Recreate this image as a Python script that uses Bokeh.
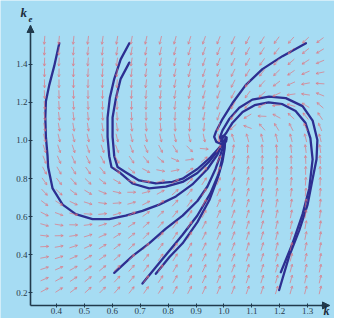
from math import hypot
from bokeh.plotting import figure
from bokeh.models import ColumnDataSource, Arrow, OpenHead, NormalHead, Label, FixedTicker
from bokeh.embed import file_html
from bokeh.resources import INLINE

# ---------------- data ----------------
X_TICKS = [0.4, 0.5, 0.6, 0.7, 0.8, 0.9, 1.0, 1.1, 1.2, 1.3]
X_TICK_LABELS = ["0.4", "0.5", "0.6", "0.7", "0.8", "0.9", "1.0", "1.1", "1.2", "1.3"]
Y_TICKS = [0.2, 0.4, 0.6, 0.8, 1.0, 1.2, 1.4]
Y_TICK_LABELS = ["0.2", "0.4", "0.6", "0.8", "1.0", "1.2", "1.4"]

# steady state (centre of the spiral) and linear direction-field coefficients
K_STAR, KE_STAR = 0.996, 1.010
FIELD_COEF = [[-1.0, -2.0], [6.0, -7.0]]

# grid on which the direction field arrows sit
FIELD_K = [0.357, 0.409, 0.461, 0.513, 0.565, 0.617, 0.669, 0.721, 0.773, 0.825,
           0.877, 0.929, 0.981, 1.033, 1.085, 1.137, 1.189, 1.241, 1.293, 1.345]
FIELD_KE = [0.215, 0.272, 0.329, 0.386, 0.443, 0.500, 0.557, 0.614, 0.671, 0.728,
            0.785, 0.842, 0.899, 0.956, 1.013, 1.070, 1.127, 1.184, 1.241, 1.298,
            1.355, 1.412, 1.469, 1.526]

# trajectories
TRAJ_A_K = [0.410, 0.392, 0.374, 0.362, 0.360, 0.362, 0.368, 0.370, 0.386, 0.422, 0.469, 0.529,
            0.589, 0.648, 0.708, 0.768, 0.828, 0.887, 0.941, 0.977, 0.992, 1.004, 1.008]
TRAJ_A_KE = [1.510, 1.391, 1.290, 1.205, 1.120, 1.019, 0.917, 0.860, 0.748, 0.663, 0.613, 0.587,
             0.587, 0.605, 0.630, 0.663, 0.706, 0.769, 0.850, 0.926, 0.975, 0.990, 1.005]

TRAJ_B1_K = [0.661, 0.630, 0.607, 0.591, 0.583, 0.583, 0.589, 0.597, 0.625, 0.672, 0.732,
             0.792, 0.852, 0.905, 0.948, 0.981, 0.996, 1.006, 1.006]
TRAJ_B1_KE = [1.510, 1.425, 1.323, 1.222, 1.120, 1.019, 0.917, 0.860, 0.833, 0.774, 0.748,
              0.757, 0.782, 0.829, 0.890, 0.951, 0.985, 0.996, 1.012]

TRAJ_B2_K = [0.661, 0.630, 0.613, 0.601, 0.601, 0.607, 0.619, 0.648, 0.696, 0.756, 0.816,
             0.852, 0.905, 0.952, 0.984, 1.000, 1.005]
TRAJ_B2_KE = [1.408, 1.323, 1.222, 1.120, 1.019, 0.917, 0.860, 0.833, 0.790, 0.774, 0.782,
              0.799, 0.850, 0.911, 0.962, 0.992, 1.008]

TRAJ_C_K = [0.607, 0.672, 0.732, 0.792, 0.852, 0.905, 0.941, 0.970, 0.988, 0.999, 1.006]
TRAJ_C_KE = [0.305, 0.393, 0.460, 0.537, 0.605, 0.682, 0.758, 0.850, 0.926, 0.977, 1.000]

TRAJ_D1_K = [0.708, 0.780, 0.852, 0.905, 0.952, 0.981, 0.995, 1.002, 1.004]
TRAJ_D1_KE = [0.249, 0.378, 0.505, 0.606, 0.723, 0.824, 0.911, 0.967, 0.995]

TRAJ_D2_K = [0.756, 0.805, 0.852, 0.905, 0.948, 0.977, 0.995, 1.002, 1.004]
TRAJ_D2_KE = [0.300, 0.388, 0.460, 0.571, 0.687, 0.799, 0.890, 0.951, 0.985]

TRAJ_E1_K = [1.198, 1.234, 1.270, 1.300, 1.318, 1.332, 1.335, 1.318, 1.282, 1.222, 1.162,
             1.102, 1.055, 1.019, 0.995, 0.986, 0.990, 1.003]
TRAJ_E1_KE = [0.215, 0.393, 0.528, 0.663, 0.799, 0.901, 1.002, 1.104, 1.180, 1.222, 1.230,
              1.214, 1.171, 1.112, 1.053, 1.017, 0.995, 0.992]

TRAJ_E2_K = [1.204, 1.246, 1.282, 1.306, 1.318, 1.310, 1.292, 1.257, 1.210, 1.160, 1.110,
             1.067, 1.031, 1.010, 0.996, 0.994, 1.002]
TRAJ_E2_KE = [0.308, 0.460, 0.613, 0.748, 0.901, 1.012, 1.093, 1.154, 1.190, 1.200, 1.185,
              1.149, 1.093, 1.043, 1.015, 1.000, 0.998]

TRAJ_F_K = [1.294, 1.210, 1.138, 1.078, 1.031, 0.995, 0.971, 0.965, 0.973, 0.990, 1.008,
            1.010, 0.998, 0.988, 0.994]
TRAJ_F_KE = [1.510, 1.442, 1.374, 1.290, 1.196, 1.112, 1.044, 1.019, 0.992, 0.982, 0.995,
             1.015, 1.025, 1.015, 1.008]

# ---------------- layout / style ----------------
W, H = 334, 318
X_RANGE = (0.1993, 1.3964)      # whole figure is the frame
Y_RANGE = (0.0656, 1.734)
X_AXIS_POS = 0.3068              # where the vertical axis stands
Y_AXIS_POS = 0.134               # where the horizontal axis stands
X_AXIS_END = 1.3785
Y_AXIS_END = 1.603
BG = "#a6dcf3"
AXIS = "#213a4c"
FIELD_COLOR = "#e2707a"
TRAJ_COLOR = "#2d2f91"

sx = W / (X_RANGE[1] - X_RANGE[0])
sy = H / (Y_RANGE[1] - Y_RANGE[0])

p = figure(width=W, height=H, x_range=X_RANGE, y_range=Y_RANGE,
           output_backend="svg", toolbar_location=None, title=None,
           min_border_left=0, min_border_right=0,
           min_border_top=0, min_border_bottom=0)
p.background_fill_color = BG
p.border_fill_color = BG
p.outline_line_color = None
p.xgrid.visible = False
p.ygrid.visible = False

# direction field
a, b = FIELD_COEF[0]
c, d = FIELD_COEF[1]
L = 8.5
x0s, y0s, x1s, y1s = [], [], [], []
for ke in FIELD_KE:
    for k in FIELD_K:
        u, v = k - K_STAR, ke - KE_STAR
        du, dv = a * u + b * v, c * u + d * v
        px, py = du * sx, dv * sy
        n = hypot(px, py)
        if n == 0:
            continue
        hx = px / n * L / 2 / sx
        hy = py / n * L / 2 / sy
        x0s.append(k - hx); y0s.append(ke - hy)
        x1s.append(k + hx); y1s.append(ke + hy)
src = ColumnDataSource(dict(x0=x0s, y0=y0s, x1=x1s, y1=y1s))
p.add_layout(Arrow(x_start="x0", y_start="y0", x_end="x1", y_end="y1", source=src,
                   line_color=FIELD_COLOR, line_alpha=0.75, line_width=0.9,
                   end=OpenHead(size=2.5, line_color=FIELD_COLOR, line_alpha=0.75, line_width=0.9)))

# trajectories
for xs, ys in [(TRAJ_A_K, TRAJ_A_KE), (TRAJ_B1_K, TRAJ_B1_KE), (TRAJ_B2_K, TRAJ_B2_KE),
               (TRAJ_C_K, TRAJ_C_KE), (TRAJ_D1_K, TRAJ_D1_KE), (TRAJ_D2_K, TRAJ_D2_KE),
               (TRAJ_E1_K, TRAJ_E1_KE), (TRAJ_E2_K, TRAJ_E2_KE), (TRAJ_F_K, TRAJ_F_KE)]:
    p.line(xs, ys, line_color=TRAJ_COLOR, line_width=2.3, line_join="round", line_cap="round")

# axes, placed inside the frame at fixed data positions
p.xaxis.fixed_location = Y_AXIS_POS
p.yaxis.fixed_location = X_AXIS_POS
p.xaxis.ticker = FixedTicker(ticks=X_TICKS)
p.xaxis.major_label_overrides = {t: s for t, s in zip(X_TICKS, X_TICK_LABELS)}
p.yaxis.ticker = FixedTicker(ticks=Y_TICKS)
p.yaxis.major_label_overrides = {t: s for t, s in zip(Y_TICKS, Y_TICK_LABELS)}
p.xaxis.bounds = (X_AXIS_POS, X_AXIS_END)
p.yaxis.bounds = (Y_AXIS_POS, Y_AXIS_END)
for ax in (p.xaxis, p.yaxis):
    ax.axis_line_color = AXIS
    ax.axis_line_width = 1.6
    ax.major_tick_line_color = AXIS
    ax.major_tick_in = 2
    ax.major_tick_out = 2
    ax.minor_tick_line_color = None
    ax.major_label_text_font = "Liberation Serif"
    ax.major_label_text_font_size = "9px"
    ax.major_label_text_color = "#2b3b4a"
    ax.major_label_standoff = 1

p.add_layout(Arrow(x_start=X_AXIS_POS, y_start=Y_AXIS_END - 0.03, x_end=X_AXIS_POS, y_end=Y_AXIS_END,
                   line_color=AXIS, line_width=1.6,
                   end=NormalHead(size=7, fill_color=AXIS, line_color=AXIS)))
p.add_layout(Arrow(x_start=X_AXIS_END - 0.03, y_start=Y_AXIS_POS, x_end=X_AXIS_END, y_end=Y_AXIS_POS,
                   line_color=AXIS, line_width=1.6,
                   end=NormalHead(size=7, fill_color=AXIS, line_color=AXIS)))

# axis names
p.add_layout(Label(x=X_AXIS_POS - 10 / sx, y=Y_RANGE[1] - 19 / sy, text="k",
                   text_font="Liberation Serif", text_font_style="bold italic",
                   text_font_size="13px", text_color="#1c2c3c"))
p.add_layout(Label(x=X_AXIS_POS - 2 / sx, y=Y_RANGE[1] - 21 / sy, text="e",
                   text_font="Liberation Serif", text_font_style="bold italic",
                   text_font_size="9px", text_color="#1c2c3c"))
p.add_layout(Label(x=X_AXIS_END - 6 / sx, y=Y_AXIS_POS - 13 / sy, text="k",
                   text_font="Liberation Serif", text_font_style="bold italic",
                   text_font_size="12px", text_color="#1c2c3c"))

open("out.html", "w").write(file_html(p, INLINE))
